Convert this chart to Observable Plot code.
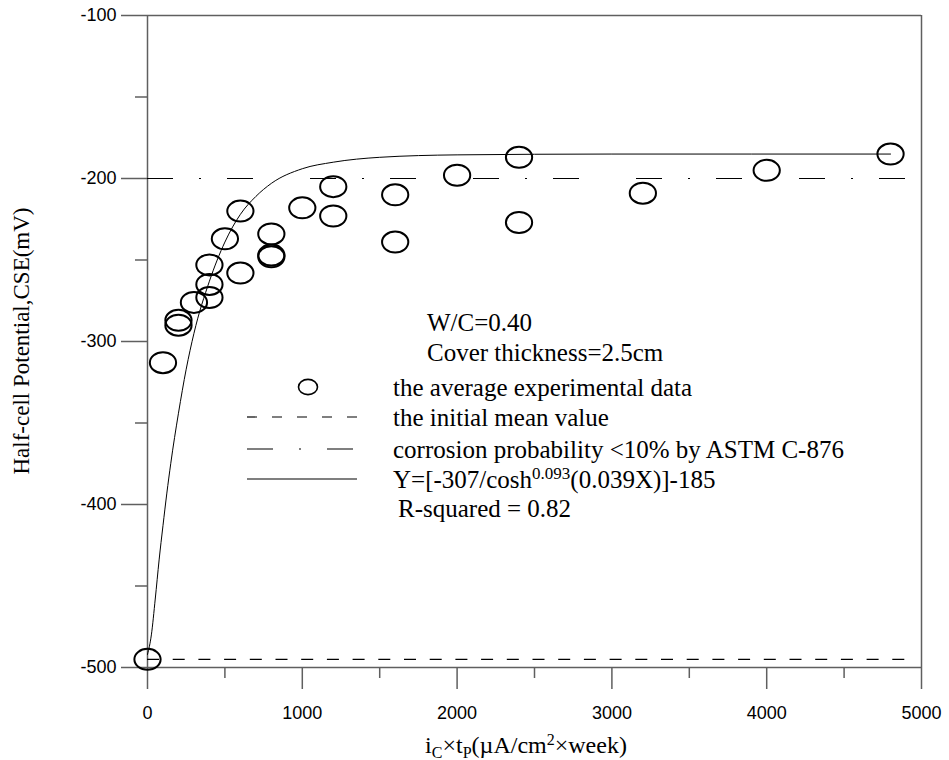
<!DOCTYPE html>
<html><head><meta charset="utf-8">
<script src="https://cdn.jsdelivr.net/npm/d3@7"></script>
<script src="https://cdn.jsdelivr.net/npm/@observablehq/plot@0.6"></script>
<style>
body{margin:0;background:#fff;}
</style>
</head><body><div id="chart"></div>
<script>
// ---- data ----
const expX = [0, 100, 200, 200, 300, 400, 400, 400, 500, 600, 600, 800, 800, 800, 1000, 1200, 1200, 1600, 1600, 2000, 2400, 2400, 3200, 4000, 4800];
const expY = [-495, -313, -287, -290, -276, -253, -265, -273, -237, -220, -258, -234, -247, -248, -218, -205, -223, -210, -239, -198, -187, -227, -209, -195, -185];
const fitX = [0, 25, 50, 75, 100, 125, 150, 200, 250, 300, 400, 500, 600, 700, 800, 1000, 1200, 1500, 2000, 3000, 4800];
const fitY = [-492, -480, -458, -434, -413, -393, -375, -344, -317, -295, -263, -239, -222, -211, -203, -194, -190, -187, -185.5, -185, -185];
const initialMean = [-495];
const astmLimit = [-200];
const refRange = [0, 4900];
const xMajorTicks = [0, 1000, 2000, 3000, 4000, 5000];
const xMinorTicks = [500, 1500, 2500, 3500, 4500];
const yMajorTicks = [-100, -200, -300, -400, -500];
const yMinorTicks = [-150, -250, -350, -450];
const notes = ["W/C=0.40", "Cover thickness=2.5cm"];
const seriesLabels = ["the average experimental data", "the initial mean value", "corrosion probability <10% by ASTM C-876"];
const fitLabel = ["Y=[-307/cosh", "0.093", "(0.039X)]-185"];
const rSquared = "R-squared = 0.82";
const yTitle = "Half-cell Potential,CSE(mV)";
const xTitle = [["i", ""], ["C", "sub"], ["×t", ""], ["P", "sub"], ["(µA/cm", ""], ["2", "sup"], ["×week)", ""]];

const expData = expX.map((x, i) => ({x, y: expY[i]}));
const fitData = fitX.map((x, i) => ({x, y: fitY[i]}));

const ellipse = {
  draw(ctx, size) {
    const r = Math.sqrt(size / Math.PI), rx = r * 1.25, ry = r, k = 0.5523;
    ctx.moveTo(rx, 0);
    ctx.bezierCurveTo(rx, k * ry, k * rx, ry, 0, ry);
    ctx.bezierCurveTo(-k * rx, ry, -rx, k * ry, -rx, 0);
    ctx.bezierCurveTo(-rx, -k * ry, -k * rx, -ry, 0, -ry);
    ctx.bezierCurveTo(k * rx, -ry, rx, -k * ry, rx, 0);
    ctx.closePath();
  }
};

const axisColor = "#5f5f5f";
const sans = "'Liberation Sans', Arial, sans-serif";
const serif = "'Liberation Serif', 'Times New Roman', serif";
const dashDot = "26,26,2,26,26,57";
const dashed = "12,13.7";

const chart = Plot.plot({
  width: 949, height: 760,
  marginLeft: 147, marginRight: 28, marginTop: 15, marginBottom: 93,
  style: {background: "white", fontFamily: sans, fontSize: "18px", color: "#000", overflow: "visible"},
  x: {domain: [0, 5000], axis: null},
  y: {domain: [-500, -100], axis: null},
  marks: [
    Plot.ruleY(yMajorTicks.filter(d => d === -100 || d === -500), {stroke: axisColor, strokeWidth: 1.5}),
    Plot.ruleX([0, 5000], {stroke: axisColor, strokeWidth: 1.5}),
    Plot.axisY(yMajorTicks, {anchor: "left", tickSize: 26, tickPadding: 5, stroke: axisColor, strokeWidth: 1.5, fill: "#000", fontSize: 18, label: null, tickFormat: d => String(d)}),
    Plot.axisY(yMinorTicks, {anchor: "left", tickSize: 12, stroke: axisColor, strokeWidth: 1.5, label: null, tickFormat: () => ""}),
    Plot.axisX(xMajorTicks, {anchor: "bottom", tickSize: 22, tickPadding: 17, stroke: axisColor, strokeWidth: 1.5, fill: "#000", fontSize: 18, label: null, tickFormat: d => String(d)}),
    Plot.axisX(xMinorTicks, {anchor: "bottom", tickSize: 11, stroke: axisColor, strokeWidth: 1.5, label: null, tickFormat: () => ""}),
    Plot.ruleY(initialMean, {x1: refRange[0], x2: refRange[1], stroke: "#000", strokeWidth: 1.2, strokeDasharray: dashed}),
    Plot.ruleY(astmLimit, {x1: refRange[0], x2: refRange[1], stroke: "#000", strokeWidth: 1.2, strokeDasharray: dashDot}),
    Plot.line(fitData, {x: "x", y: "y", curve: "monotone-x", stroke: "#000", strokeWidth: 1}),
    Plot.dot(expData, {x: "x", y: "y", r: 10.5, symbol: ellipse, stroke: "#000", strokeWidth: 2, fill: "none"})
  ]
});
document.getElementById("chart").appendChild(chart);

// ---- legend and titles ----
const svg = d3.select(chart);
const g = svg.append("g").attr("font-family", serif).attr("font-size", 25).attr("fill", "#000").attr("text-anchor", "start");
const textX = 393, noteX = 427, lineX1 = 247, lineX2 = 361;
const rows = [331, 361, 396, 426, 458, 488, 517];
notes.forEach((t, i) => g.append("text").attr("x", noteX).attr("y", rows[i]).text(t));
seriesLabels.forEach((t, i) => g.append("text").attr("x", textX).attr("y", rows[i + 2]).text(t));
const yt = g.append("text").attr("x", textX).attr("y", rows[5]);
yt.append("tspan").text(fitLabel[0]);
yt.append("tspan").attr("font-size", 17).attr("dy", -9).text(fitLabel[1]);
yt.append("tspan").attr("dy", 9).text(fitLabel[2]);
g.append("text").attr("x", textX + 5).attr("y", rows[6]).text(rSquared);
const mid = r => r - 9;
g.append("path").attr("d", d3.symbol(ellipse, Math.PI * 7.6 * 7.6)()).attr("transform", `translate(308,${mid(rows[2])})`).attr("fill", "none").attr("stroke", "#000").attr("stroke-width", 1.6);
g.append("line").attr("x1", lineX1).attr("x2", lineX2).attr("y1", mid(rows[3])).attr("y2", mid(rows[3])).attr("stroke", "#000").attr("stroke-width", 1.2).attr("stroke-dasharray", "10,15");
g.append("line").attr("x1", lineX1).attr("x2", lineX1 + 107).attr("y1", mid(rows[4])).attr("y2", mid(rows[4])).attr("stroke", "#000").attr("stroke-width", 1.2).attr("stroke-dasharray", "26,26,2,26,26,60");
g.append("line").attr("x1", lineX1).attr("x2", lineX1 + 110).attr("y1", mid(rows[5])).attr("y2", mid(rows[5])).attr("stroke", "#000").attr("stroke-width", 1.2);

svg.append("text").attr("font-family", serif).attr("font-size", 23)
  .attr("transform", "translate(29,341) rotate(-90)").attr("text-anchor", "middle").text(yTitle);
const xt = svg.append("text").attr("font-family", serif).attr("font-size", 24)
  .attr("x", 526).attr("y", 753).attr("text-anchor", "middle");
xTitle.forEach(([t, kind], i) => {
  const prev = i > 0 ? xTitle[i - 1][1] : "";
  let dy = 0;
  if (kind === "sub") dy = 5; else if (kind === "sup") dy = -8;
  if (prev === "sub") dy -= 5; else if (prev === "sup") dy += 8;
  const s = xt.append("tspan").attr("dy", dy).text(t);
  if (kind) s.attr("font-size", 16);
});
</script>
</body></html>
